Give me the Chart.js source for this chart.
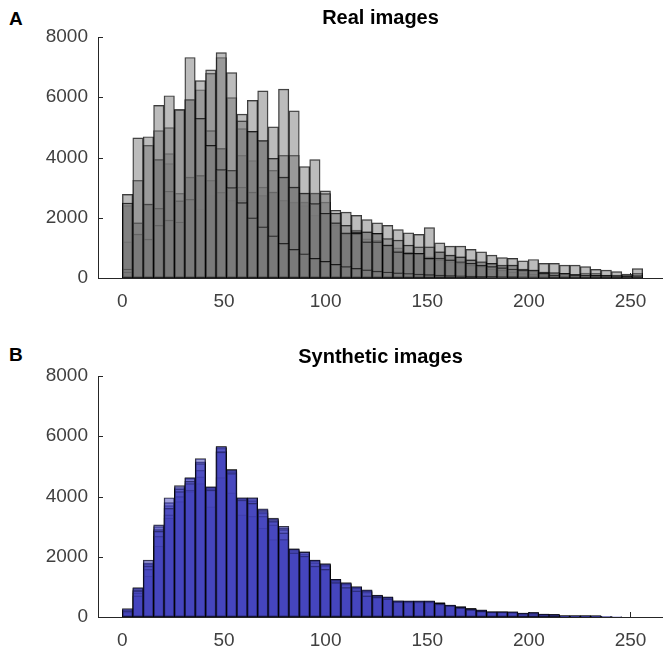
<!DOCTYPE html>
<html lang="en">
  <head>
    <meta charset="UTF-8">
    <title>Histograms</title>
    <script src="https://cdn.jsdelivr.net/npm/chart.js"></script>
    <style>
      body { margin: 0; background: #fff; overflow: hidden; }
      .panel { position: absolute; left: 0; width: 663px; height: 310px; }
      .letter { position: absolute; left: 9px; font: bold 19px "Liberation Sans", Arial, sans-serif; color: #000; }
    </style>
  </head>
  <body>
    <div class="letter" style="top: 8px;">A</div>
    <div class="letter" style="top: 344px;">B</div>
    <div class="panel" style="top: 0px;"><canvas id="graficoA" width="663" height="310"></canvas></div>
    <div class="panel" style="top: 339px;"><canvas id="graficoB" width="663" height="310"></canvas></div>

    <script>
      // bin centres (intensity 0..256, 50 bins)
      const bins = [2.56, 7.68, 12.8, 17.92, 23.04, 28.16, 33.28, 38.4, 43.52, 48.64,
        53.76, 58.88, 64, 69.12, 74.24, 79.36, 84.48, 89.6, 94.72, 99.84,
        104.96, 110.08, 115.2, 120.32, 125.44, 130.56, 135.68, 140.8, 145.92, 151.04,
        156.16, 161.28, 166.4, 171.52, 176.64, 181.76, 186.88, 192, 197.12, 202.24,
        207.36, 212.48, 217.6, 222.72, 227.84, 232.96, 238.08, 243.2, 248.32, 253.44]

      const xTicks = [0, 50, 100, 150, 200, 250]
      const yTicks = [0, 2000, 4000, 6000, 8000]

      // real images
      const real1 = [2490, 4650, 4690, 5730, 6050, 5590, 7320, 5300, 4400, 3600, 3000, 2500, 2000, 1700, 1400, 1150, 950, 800, 650, 550,
        450, 380, 320, 270, 230, 200, 170, 150, 130, 110, 95, 80, 70, 60, 50, 45, 40, 35, 30, 25, 20, 18, 15, 12, 10, 8, 6, 5, 4, 6]
      const real2 = [300, 1830, 2450, 3930, 4990, 5590, 5920, 6550, 6910, 7480, 6820, 5220, 4870, 4560, 3970, 3350, 3020, 2820, 2470, 2150,
        1830, 1490, 1480, 1200, 1200, 1090, 870, 815, 815, 650, 660, 600, 540, 490, 420, 380, 340, 300, 265, 265, 155, 100, 155, 100, 100, 90, 80, 70, 60, 80]
      const real3 = [200, 1455, 1290, 1750, 1920, 1860, 2610, 3400, 4890, 4300, 3570, 5440, 5900, 6210, 5020, 6270, 5550, 3700, 3930, 2800,
        2150, 1750, 1530, 1530, 1480, 1310, 1260, 1090, 1035, 1035, 870, 760, 700, 600, 540, 485, 430, 430, 300, 265, 200, 180, 150, 120, 100, 90, 80, 70, 60, 50]
      const real4 = [2780, 3240, 2450, 2310, 2880, 2560, 3350, 3400, 3240, 2840, 3570, 3020, 2850, 3020, 2850, 3350, 3020, 2820, 2820, 2890,
        2250, 2190, 2080, 1940, 1830, 1750, 1610, 1500, 1450, 1675, 1170, 1060, 1060, 950, 870, 760, 680, 650, 570, 615, 485, 485, 430, 430, 375, 290, 265, 210, 130, 310]
      const real5 = [2490, 1830, 4400, 4890, 4130, 2560, 5920, 6250, 6790, 7320, 5990, 4960, 4870, 4560, 3570, 4070, 4070, 2520, 2820, 2520,
        1830, 1500, 1590, 1530, 1480, 1090, 1000, 815, 815, 650, 600, 540, 490, 420, 375, 300, 260, 200, 150, 120, 100, 80, 60, 50, 40, 30, 30, 20, 20, 20]
      const real6 = [1200, 1455, 1290, 3930, 3800, 2810, 3350, 3400, 3240, 4300, 2580, 4070, 3900, 2740, 2850, 2580, 2520, 2520, 2470, 2150,
        1830, 1490, 1480, 1200, 1200, 1090, 870, 815, 815, 650, 870, 760, 700, 600, 540, 485, 375, 430, 265, 265, 155, 100, 155, 100, 165, 155, 100, 100, 100, 155]
      const real7 = [2400, 1455, 2450, 2310, 1920, 1860, 2610, 2280, 2740, 2840, 2580, 2580, 2850, 2740, 2850, 2580, 2520, 2400, 2080, 2150,
        1750, 1500, 1530, 1300, 1250, 1100, 900, 850, 800, 700, 660, 600, 540, 490, 430, 385, 350, 300, 260, 240, 200, 160, 130, 100, 80, 70, 60, 50, 40, 50]

      // synthetic images
      const syn1 = [280, 977, 1890, 3060, 3960, 4360, 4630, 5260, 4320, 5660, 4890, 3960, 3960, 3590, 3280, 3010, 2260, 2160, 1890, 1770,
        1250, 1140, 1010, 900, 725, 670, 540, 540, 540, 540, 450, 395, 320, 263, 207, 175, 175, 175, 130, 155, 100, 88, 44, 44, 44, 44, 10, 5, 0, 0]
      const syn2 = [200, 866, 1690, 2840, 3610, 4160, 4430, 5090, 4210, 5470, 4760, 3880, 3770, 3500, 3170, 2790, 2130, 2020, 1690, 1580,
        1140, 977, 866, 700, 650, 600, 500, 505, 505, 505, 430, 370, 300, 240, 190, 160, 160, 150, 110, 120, 80, 60, 30, 30, 30, 25, 5, 0, 0, 0]
      const syn3 = [150, 700, 1580, 2680, 3390, 4000, 4210, 4870, 4320, 5660, 4890, 3960, 3960, 3340, 3060, 2570, 2260, 2160, 1890, 1745,
        1250, 1120, 977, 866, 700, 650, 540, 505, 505, 505, 480, 395, 350, 285, 240, 175, 175, 155, 130, 100, 66, 55, 30, 25, 20, 15, 5, 0, 0, 0]
      const syn4 = [250, 800, 1360, 2350, 3280, 3830, 4160, 4650, 3660, 4630, 4120, 3390, 3340, 2950, 2570, 2570, 2130, 2020, 1690, 1580,
        1140, 977, 866, 700, 650, 600, 500, 480, 480, 480, 420, 360, 300, 240, 190, 150, 150, 140, 100, 100, 60, 50, 25, 20, 20, 10, 0, 0, 0, 0]
      const syn5 = [180, 900, 1800, 2900, 3800, 4250, 4500, 4430, 4250, 5500, 4800, 3900, 3850, 3450, 3200, 2900, 2200, 2100, 1800, 1700,
        1200, 1080, 950, 820, 700, 640, 520, 520, 520, 520, 450, 380, 330, 260, 210, 170, 170, 160, 120, 130, 90, 70, 40, 40, 35, 30, 5, 0, 0, 0]
      const syn6 = [230, 950, 1750, 3000, 3700, 4300, 4600, 5150, 4280, 5600, 4850, 3930, 3900, 3550, 3250, 2950, 2230, 2100, 1850, 1720,
        1220, 1100, 990, 880, 715, 660, 530, 530, 530, 530, 460, 390, 340, 270, 220, 170, 170, 170, 125, 140, 95, 80, 40, 40, 40, 35, 8, 3, 0, 0]

      const realSeries = [real1, real2, real3, real4, real5, real6, real7]
      const synSeries = [syn1, syn2, syn3, syn4, syn5, syn6]

      // matlab-like ticks pointing into the axes
      const inwardTicks = {
        id: 'inwardTicks',
        beforeDatasetsDraw(chart) {
          const {ctx, chartArea, scales} = chart
          ctx.save()
          ctx.strokeStyle = '#262626'
          ctx.lineWidth = 1
          ctx.beginPath()
          xTicks.forEach(v => {
            const px = Math.round(scales.x.getPixelForValue(v)) + 0.5
            ctx.moveTo(px, chartArea.bottom)
            ctx.lineTo(px, chartArea.bottom - 5)
          })
          yTicks.forEach(v => {
            const py = Math.round(scales.y.getPixelForValue(v)) + 0.5
            ctx.moveTo(chartArea.left, py)
            ctx.lineTo(chartArea.left + 5, py)
          })
          ctx.stroke()
          ctx.restore()
        }
      }

      const fonte = '"Liberation Sans", Arial, sans-serif'

      const fazerGrafico = (id, titulo, series, cor) => {
        const datasets = series.map(s => ({
          data: s.map((v, i) => ({x: bins[i], y: v})),
          backgroundColor: cor,
          borderColor: 'rgba(0,0,0,0.8)',
          borderWidth: 0.8,
          borderSkipped: false,
          barPercentage: 1,
          categoryPercentage: 1,
          grouped: false
        }))
        return new Chart(document.getElementById(id), {
          type: 'bar',
          data: {datasets},
          plugins: [inwardTicks],
          options: {
            responsive: false,
            animation: false,
            layout: {padding: 0},
            plugins: {
              legend: {display: false},
              tooltip: {enabled: false},
              title: {
                display: true,
                text: titulo,
                fullSize: false,
                color: '#000',
                font: {family: fonte, size: 20, weight: 'bold', lineHeight: 1.2},
                padding: {top: 6, bottom: 7}
              }
            },
            scales: {
              x: {
                type: 'linear',
                offset: false,
                min: -12,
                max: 266,
                grid: {display: false, drawTicks: false},
                border: {display: true, color: '#262626', width: 1},
                afterFit: s => { s.height = 32 },
                afterBuildTicks: s => { s.ticks = xTicks.map(v => ({value: v})) },
                ticks: {
                  padding: 12,
                  color: '#404040',
                  font: {family: fonte, size: 19},
                  callback: v => String(v)
                }
              },
              y: {
                min: 0,
                max: 8000,
                grid: {display: false, drawTicks: false},
                border: {display: true, color: '#262626', width: 1},
                afterFit: s => { s.width = 98 },
                afterBuildTicks: s => { s.ticks = yTicks.map(v => ({value: v})) },
                ticks: {
                  padding: 10,
                  color: '#404040',
                  font: {family: fonte, size: 19},
                  callback: v => String(v)
                }
              }
            }
          }
        })
      }

      fazerGrafico('graficoA', 'Real images', realSeries, 'rgba(122,122,122,0.5)')
      fazerGrafico('graficoB', 'Synthetic images', synSeries, 'rgba(68,68,190,0.5)')
    </script>
  </body>
</html>
